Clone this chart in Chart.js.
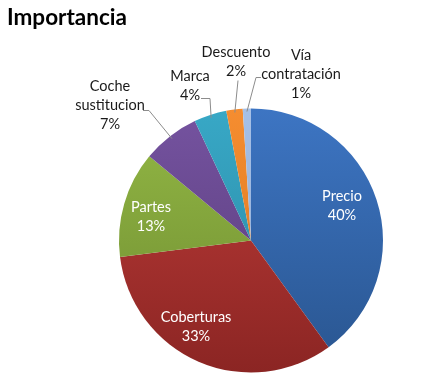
<!DOCTYPE html>
<html>
<head>
<meta charset="utf-8">
<script src="https://cdn.jsdelivr.net/npm/chart.js@4.4.1/dist/chart.umd.min.js"></script>
<style>
  html, body { margin: 0; padding: 0; background: #fff; }
  #wrap { position: relative; width: 426px; height: 380px; }
</style>
</head>
<body>
<div id="wrap"><canvas id="chart"></canvas></div>
<script>
const chartTitle = 'Importancia';
const categories = ['Precio', 'Coberturas', 'Partes', 'Coche sustitucion', 'Marca', 'Descuento', 'Vía contratación'];
const values = [40, 33, 13, 7, 4, 2, 1];
const percentLabels = ['40%', '33%', '13%', '7%', '4%', '2%', '1%'];

// top / bottom shade of each slice (Excel-like vertical gradient)
const topColors = ['#3d75c3', '#c03d3a', '#93b845', '#7553a0', '#38a8c6', '#f58d30', '#a6c0e6'];
const bottomColors = ['#29558f', '#8b2523', '#6e8b30', '#573b78', '#2985a0', '#d6741f', '#8ca8d2'];

const FONT = 'Lato, "Noto Sans", sans-serif';

// label layout: inside labels use offsets, outside labels have text + leader lines
// (offsets in px from the pie centre)
const labelLayout = [
  { inside: true, dx: 91, dy: -35, lines: ['Precio'] },
  { inside: true, dx: -55, dy: 86, lines: ['Coberturas'] },
  { inside: true, dx: -100, dy: -24, lines: ['Partes'] },
  { inside: false, dx: -141, dy: -135, lines: ['Coche', 'sustitucion'], start: [-108, -130], elbow: [-102, -130] },
  { inside: false, dx: -61, dy: -155, lines: ['Marca'], start: [-50, -142], elbow: [-41, -142] },
  { inside: false, dx: -15, dy: -179, lines: ['Descuento'], start: [-13, -160], elbow: [-13, -160] },
  { inside: false, dx: 50, dy: -166, lines: ['Vía', 'contratación'], start: [10, -163], elbow: [5, -163] }
];

const labelPlugin = {
  id: 'pieLabels',
  afterDraw(chart) {
    const ctx = chart.ctx;
    const meta = chart.getDatasetMeta(0);
    ctx.save();

    // title
    ctx.font = 'bold 22.5px ' + FONT;
    ctx.fillStyle = '#000';
    ctx.textAlign = 'left';
    ctx.textBaseline = 'alphabetic';
    ctx.fillText(chartTitle, 7, 25);

    ctx.font = '14.5px ' + FONT;
    ctx.textAlign = 'center';
    ctx.textBaseline = 'middle';
    const lineH = 19;

    meta.data.forEach((arc, i) => {
      const cx = arc.x, cy = arc.y;
      const lay = labelLayout[i];
      const lines = lay.lines.concat([percentLabels[i]]);
      const tx = cx + lay.dx, ty = cy + lay.dy;
      const y0 = ty - (lines.length - 1) * lineH / 2;

      if (!lay.inside) {
        const mid = (arc.startAngle + arc.endAngle) / 2;
        const r = arc.outerRadius - 3;
        ctx.strokeStyle = '#8c8c8c';
        ctx.lineWidth = 1;
        ctx.beginPath();
        ctx.moveTo(cx + lay.start[0], cy + lay.start[1]);
        ctx.lineTo(cx + lay.elbow[0], cy + lay.elbow[1]);
        ctx.lineTo(cx + Math.cos(mid) * r, cy + Math.sin(mid) * r);
        ctx.stroke();
      }

      ctx.fillStyle = lay.inside ? '#ffffff' : '#1a1a1a';
      lines.forEach((t, k) => ctx.fillText(t, tx, y0 + k * lineH));
    });
    ctx.restore();
  }
};

function sliceFill(context) {
  const chart = context.chart;
  const area = chart.chartArea;
  if (!area) return topColors[context.dataIndex];
  const g = chart.ctx.createLinearGradient(0, area.top, 0, area.bottom);
  g.addColorStop(0, topColors[context.dataIndex]);
  g.addColorStop(1, bottomColors[context.dataIndex]);
  return g;
}

new Chart(document.getElementById('chart'), {
  type: 'pie',
  data: {
    labels: categories,
    datasets: [{
      data: values,
      backgroundColor: sliceFill,
      borderWidth: 0
    }]
  },
  options: {
    responsive: true,
    maintainAspectRatio: false,
    animation: false,
    layout: { padding: { left: 119, right: 43, top: 108, bottom: 7 } },
    plugins: {
      legend: { display: false },
      tooltip: { enabled: false },
      title: { display: false }
    }
  },
  plugins: [labelPlugin]
});
</script>
</body>
</html>
